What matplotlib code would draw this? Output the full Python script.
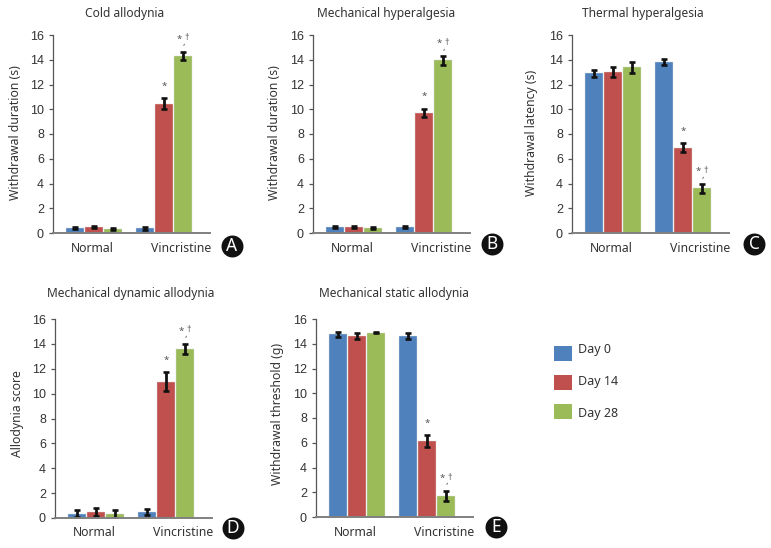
import matplotlib
matplotlib.use('Agg')
import matplotlib.pyplot as plt
from matplotlib.patches import Rectangle

groups = ['Normal', 'Vincristine']
days = ['Day 0', 'Day 14', 'Day 28']
colors = ['#4F81BD', '#C0504D', '#9BBB59']

titles = ['Cold allodynia', 'Mechanical hyperalgesia', 'Thermal hyperalgesia',
          'Mechanical dynamic allodynia', 'Mechanical static allodynia']
ylabels = ['Withdrawal duration (s)', 'Withdrawal duration (s)', 'Withdrawal latency (s)',
           'Allodynia score', 'Withdrawal threshold (g)']
letters = ['A', 'B', 'C', 'D', 'E']

# rows are Day 0, Day 14, Day 28; columns are Normal, Vincristine
vals_a = [[0.4, 0.4], [0.5, 10.45], [0.35, 14.3]]
errs_a = [[0.1, 0.12], [0.1, 0.45], [0.08, 0.35]]
vals_b = [[0.45, 0.45], [0.45, 9.7], [0.4, 13.95]]
errs_b = [[0.08, 0.08], [0.08, 0.35], [0.06, 0.35]]
vals_c = [[12.9, 13.85], [13.0, 6.9], [13.4, 3.6]]
errs_c = [[0.3, 0.25], [0.4, 0.35], [0.45, 0.35]]
vals_d = [[0.35, 0.5], [0.5, 10.95], [0.35, 13.6]]
errs_d = [[0.3, 0.25], [0.3, 0.75], [0.32, 0.42]]
vals_e = [[14.75, 14.65], [14.6, 6.15], [14.9, 1.7]]
errs_e = [[0.2, 0.25], [0.25, 0.5], [0.05, 0.4]]
all_vals = [vals_a, vals_b, vals_c, vals_d, vals_e]
all_errs = [errs_a, errs_b, errs_c, errs_d, errs_e]

W, H = 771, 548
# pixel layout: spine x, axis end x, y of 16, y of 0
boxes = [(53, 210, 35, 233), (313, 470, 35, 233), (572, 729, 35, 233),
         (55, 212, 319, 518), (316, 473, 319, 517)]
title_pos = [(125, 13), (386, 13), (643, 13), (131, 294), (394, 294)]
ylabel_pos = [(16, 133), (275, 133), (532, 133), (18, 414), (277, 414)]
badge_pos = [(232, 246), (492, 244), (754, 244), (233, 528), (496, 527)]

plt.rcParams['font.family'] = ['Noto Sans', 'DejaVu Sans']
txt = '#333333'

fig = plt.figure(figsize=(W / 100, H / 100), dpi=100)
bg = fig.add_axes([0, 0, 1, 1])
bg.set_xlim(0, W)
bg.set_ylim(H, 0)
bg.axis('off')

for i in range(5):
    x0, x1, y0, y1 = boxes[i]
    ax = fig.add_axes([x0 / W, 1 - y1 / H, (x1 - x0) / W, (y1 - y0) / H])
    ax.patch.set_alpha(0)
    ax.set_xlim(-0.586, 1.657)
    ax.set_ylim(0, 16)
    for j in range(3):
        pos = [g + (j - 1) * 0.267 for g in range(2)]
        ax.bar(pos, all_vals[i][j], 0.255, color=colors[j], edgecolor='#dddddd', linewidth=0.3)
        ax.errorbar(pos, all_vals[i][j], yerr=all_errs[i][j], fmt='none', ecolor='#111111',
                    elinewidth=2, capsize=2.5, capthick=1.9)
    for side in ['top', 'right']:
        ax.spines[side].set_visible(False)
    ax.spines['left'].set_color('#555555')
    ax.spines['left'].set_linewidth(0.9)
    ax.spines['bottom'].set_color('#808080')
    ax.spines['bottom'].set_linewidth(1.4)
    ax.set_yticks(range(0, 17, 2))
    ax.set_xticks([])
    ax.tick_params(axis='y', length=3, width=0.9, color='#555555', labelsize=9,
                   labelcolor=txt, pad=3.5)
    for lab in ax.get_yticklabels():
        lab.set_fontfamily('Liberation Sans')

    # group labels sit off centre in the original
    for g, dx in zip(range(2), [-2, 17]):
        ax.annotate(groups[g], (g, 0), xycoords='data', xytext=(dx * 0.72, -15 * 0.72),
                    textcoords='offset points', ha='center', va='center', fontsize=8.8, color=txt)

    # significance marks above the Vincristine bars
    for j in [1, 2]:
        p = 1 + (j - 1) * 0.267
        top = all_vals[i][j][1] + all_errs[i][j][1]
        kw = dict(xycoords='data', textcoords='offset points', ha='center', va='center',
                  color='#555555')
        if j == 1:
            ax.annotate('*', (p, top), xytext=(0, 8.5), fontsize=7, **kw)
        else:
            ax.annotate('*', (p, top), xytext=(-2.4, 9), fontsize=7, **kw)
            ax.annotate(',', (p, top), xytext=(0.6, 6.5), fontsize=7, **kw)
            ax.annotate('†', (p, top), xytext=(3.2, 10), fontsize=6.5, **kw)

    bg.text(title_pos[i][0], title_pos[i][1], titles[i], ha='center', va='center', fontsize=8.6, color=txt)
    bg.text(ylabel_pos[i][0], ylabel_pos[i][1], ylabels[i], ha='center', va='center', rotation=90,
            fontsize=8.8, color=txt)
    bx, by = badge_pos[i]
    bg.scatter([bx], [by], s=250, color='#111111', linewidths=0)
    bg.text(bx, by, letters[i], ha='center', va='center', color='white', fontsize=12.5, fontweight='bold')

# legend
for j in range(3):
    bg.add_patch(Rectangle((554, 346 + j * 29), 18, 15, color=colors[j], lw=0))
    bg.text(578, 350 + j * 32, days[j], ha='left', va='center', fontsize=9, color=txt)

fig.savefig('out.png', dpi=100)
